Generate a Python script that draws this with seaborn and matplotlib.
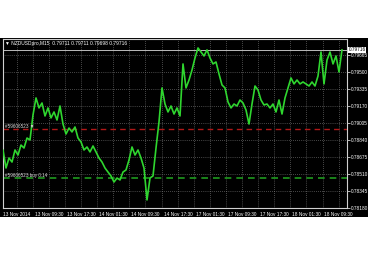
import numpy as np
import pandas as pd
import seaborn as sns
import matplotlib
matplotlib.use("Agg")
import matplotlib.pyplot as plt
from matplotlib.patches import Rectangle
from matplotlib.transforms import blended_transform_factory

# ---- data ----
price = [
    0.78743, 0.78568, 0.78665, 0.78626, 0.78743, 0.78694, 0.78791, 0.78762, 0.78859, 0.78840,
    0.79083, 0.79248, 0.79151, 0.79199, 0.79073, 0.79151, 0.79054, 0.79112, 0.79034, 0.79170,
    0.78995, 0.78898, 0.78956, 0.78918, 0.78966, 0.78859, 0.78821, 0.78743, 0.78772, 0.78724,
    0.78782, 0.78724, 0.78665, 0.78626, 0.78568, 0.78529, 0.78491, 0.78432, 0.78471, 0.78452,
    0.78529, 0.78549, 0.78646, 0.78772, 0.78694, 0.78743, 0.78665, 0.78568, 0.78258, 0.78471,
    0.78491, 0.78762, 0.79015, 0.79345, 0.79189, 0.79112, 0.79170, 0.79092, 0.79151, 0.79073,
    0.79578, 0.79345, 0.79422, 0.79519, 0.79636, 0.79733, 0.79694, 0.79655, 0.79714, 0.79636,
    0.79578, 0.79597, 0.79481, 0.79374, 0.79345, 0.79209, 0.79151, 0.79189, 0.79170, 0.79228,
    0.79199, 0.79131, 0.78995, 0.79189, 0.79364, 0.79325, 0.79228, 0.79180, 0.79189, 0.79151,
    0.79189, 0.79112, 0.79228, 0.79092, 0.79248, 0.79345, 0.79442, 0.79384, 0.79422, 0.79384,
    0.79403, 0.79384, 0.79364, 0.79403, 0.79364, 0.79461, 0.79694, 0.79384, 0.79616, 0.79694,
    0.79578, 0.79655, 0.79500, 0.79716,
]
y_ticks = [0.79665, 0.79500, 0.79335, 0.79170, 0.79005, 0.78840, 0.78675, 0.78510, 0.78345, 0.78180]
x_labels = ["13 Nov 2014", "13 Nov 09:30", "13 Nov 17:30", "14 Nov 01:30", "14 Nov 09:30",
            "14 Nov 17:30", "17 Nov 01:30", "17 Nov 09:30", "17 Nov 17:30", "18 Nov 01:30",
            "18 Nov 09:30"]
red_level = 0.78947
green_level = 0.78471
header = "\u25BC NZDUSDpro,M15  0.79711 0.79711 0.79698 0.79716"
red_label = "#59606523 \u25BC"
green_label = "#59606523 buy 0.14"

df = pd.DataFrame({"bar": np.arange(len(price)), "price": price})

sns.set_style("dark")
plt.rcParams["font.family"] = ["Liberation Sans", "DejaVu Sans"]

W, H = 370, 257
fig = plt.figure(figsize=(W / 100, H / 100), dpi=100, facecolor="white")
fig.patches.append(Rectangle((0, 40 / H), 368 / W, 179 / H, transform=fig.transFigure,
                             facecolor="black", edgecolor="none", zorder=-5))
ax = fig.add_axes([3 / W, 49 / H, 344 / W, 169 / H])
ax.set_zorder(2)
ax.set_facecolor("black")

ax.set_xlim(0, 344 / 3)
ax.set_ylim(0.78180, 0.79820)

# grid
for yv in y_ticks:
    ax.axhline(yv, color="#8c8c8c", lw=0.5, ls=(0, (1, 2)), zorder=1)
for k in range(1, 22):
    px = 0.5 + 16.1 * k
    ax.axvline((px - 3) / 3, color="#8c8c8c", lw=0.5, ls=(0, (1, 2)), zorder=1)

# order lines
ax.axhline(red_level, color="#b01818", lw=1.0, dashes=(4, 3), zorder=2)
ax.axhline(green_level, color="#1f9a1f", lw=1.2, dashes=(4, 3), zorder=2)
ax.axhline(price[-1], color="#bbbbbb", lw=0.7, zorder=2)

sns.lineplot(data=df, x="bar", y="price", ax=ax, color="#2fd62f", linewidth=1.2, zorder=3)
ax.set_xlabel("")
ax.set_ylabel("")

for s in ax.spines.values():
    s.set_color("#d0d0d0")
    s.set_linewidth(0.8)

ax.yaxis.tick_right()
ax.set_yticks(y_ticks)
ax.set_yticklabels([f"{v:.5f}" for v in y_ticks])
ax.set_xticks([(32.1 * k) / 3 for k in range(len(x_labels))])
ax.set_xticklabels(x_labels, ha="left")
ax.tick_params(axis="both", colors="white", labelsize=3.4, length=2, width=0.5, pad=1)

blend = blended_transform_factory(ax.transAxes, ax.transData)
ax.text(1.004, price[-1], f"{price[-1]:.5f}", transform=blend, fontsize=3.4, color="black",
        va="center", ha="left", bbox=dict(facecolor="white", edgecolor="none", pad=0.4), zorder=5,
        clip_on=False)
ax.text(0.006, 0.99, header, transform=ax.transAxes, va="top", ha="left", color="white",
        fontsize=3.5, family=["Liberation Sans", "DejaVu Sans"])
ax.text(0.006, red_level, red_label, transform=blend, va="bottom", ha="left", color="#d8d8d8",
        fontsize=3.3, family=["Liberation Sans", "DejaVu Sans"], zorder=4)
ax.text(0.006, green_level, green_label, transform=blend, va="bottom", ha="left", color="#d8d8d8",
        fontsize=3.3, family=["Liberation Sans", "DejaVu Sans"], zorder=4)

fig.savefig("out.png", dpi=100, facecolor="white")
